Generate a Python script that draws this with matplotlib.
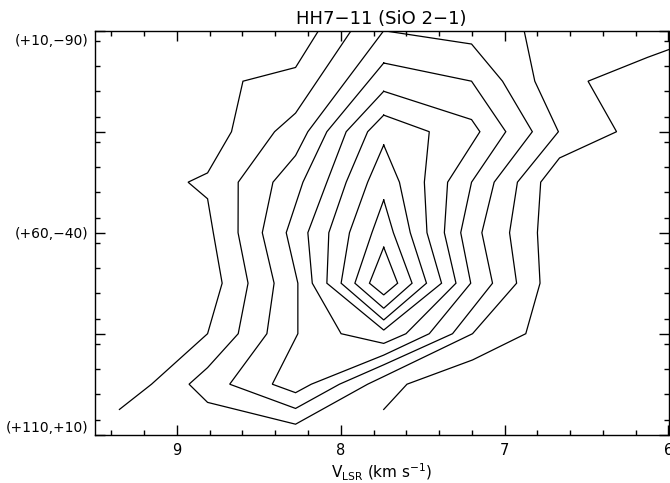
import matplotlib
matplotlib.use("Agg")
import matplotlib.pyplot as plt
from matplotlib.ticker import FixedLocator, FixedFormatter, MultipleLocator
from matplotlib.transforms import ScaledTranslation

# ---------------- data (velocity km/s, position along cut) ----------------
# contour polylines, innermost first
ring1_v = [7.738, 7.653, 7.738, 7.825, 7.738]
ring1_p = [63.6, 72.5, 75.4, 72.5, 63.6]

ring2_v = [7.738, 7.679, 7.565, 7.738, 7.914, 7.810, 7.738]
ring2_p = [51.9, 60.0, 72.5, 78.7, 72.5, 60.0, 51.9]

ring3_v = [7.738, 7.642, 7.576, 7.477, 7.738, 7.998, 7.947, 7.836, 7.738]
ring3_p = [38.3, 47.5, 60.0, 72.5, 81.6, 72.5, 60.0, 47.5, 38.3]

ring4_v = [7.738, 7.460, 7.490, 7.474, 7.385, 7.738, 8.085, 8.073, 7.967, 7.836, 7.738]
ring4_p = [30.9, 35.0, 47.5, 60.0, 72.5, 84.1, 72.5, 60.0, 47.5, 35.0, 30.9]

ring5_v = [7.738, 7.202, 7.151, 7.348, 7.368, 7.297, 7.602, 7.738, 7.998, 8.174,
           8.201, 8.085, 7.967, 7.738]
ring5_p = [25.0, 32.0, 35.0, 47.5, 60.0, 72.5, 85.0, 87.4, 85.0, 72.5,
           60.0, 47.5, 35.0, 25.0]

ring6_v = [7.738, 7.202, 6.993, 7.202, 7.268, 7.207, 7.460, 7.738, 8.180, 8.276,
           8.418, 8.262, 8.262, 8.333, 8.231, 8.085, 7.738]
ring6_p = [18.0, 22.5, 35.0, 47.5, 60.0, 72.5, 85.0, 90.3, 97.5, 99.6,
           97.5, 85.0, 72.5, 60.0, 47.5, 35.0, 18.0]

ring7_v = [7.738, 7.202, 7.013, 6.831, 7.064, 7.139, 7.074, 7.318, 7.738, 8.008,
           8.276, 8.678, 8.451, 8.407, 8.479, 8.414, 8.276, 8.201, 7.738]
ring7_p = [10.0, 13.3, 22.5, 35.0, 47.5, 60.0, 72.5, 85.0, 92.7, 97.5,
           103.5, 97.5, 85.0, 72.5, 60.0, 47.5, 40.9, 35.0, 10.0]

ring8_v = [7.937, 8.276, 8.404, 8.626, 8.627, 8.566, 8.626, 8.813, 8.926, 8.813,
           8.276, 7.836, 7.738, 7.196, 6.927, 6.970, 6.922, 6.672, 6.816, 6.881]
ring8_p = [10.0, 30.4, 35.0, 47.5, 60.0, 72.5, 85.0, 93.4, 97.5, 102.0,
           107.4, 97.5, 95.6, 85.0, 72.5, 60.0, 47.5, 35.0, 22.5, 10.0]

outer_left_v = [8.136, 8.276, 8.597, 8.667, 8.813, 8.932, 8.813, 8.778, 8.724,
                8.813, 9.155, 9.351]
outer_left_p = [10.0, 19.1, 22.5, 35.0, 45.2, 47.5, 51.6, 60.0, 72.5,
                85.0, 97.5, 103.75]

outer_right_v = [6.000, 6.128, 6.491, 6.317, 6.665, 6.780, 6.800, 6.784, 6.871,
                 7.196, 7.596, 7.738]
outer_right_p = [14.7, 16.6, 22.5, 35.0, 41.5, 47.5, 60.0, 72.5, 85.0,
                 91.5, 97.5, 103.75]

contours = [
    (ring1_v, ring1_p), (ring2_v, ring2_p), (ring3_v, ring3_p),
    (ring4_v, ring4_p), (ring5_v, ring5_p), (ring6_v, ring6_p),
    (ring7_v, ring7_p), (ring8_v, ring8_p),
    (outer_left_v, outer_left_p), (outer_right_v, outer_right_p),
]

x_ticks = [9, 8, 7, 6]
x_tick_labels = ["9", "8", "7", "6"]
y_ticks = [10, 35, 60, 85, 110]
y_tick_labels = ["(+10,\u221290)", "", "(+60,\u221240)", "", "(+110,+10)"]
title = "HH7\u221211 (SiO 2\u22121)"

# ---------------- figure ----------------
fig = plt.figure(figsize=(6.70, 4.83), dpi=100)
ax = fig.add_axes([95 / 670, 1 - 434.7 / 483, (668.5 - 95) / 670, (434.7 - 30.7) / 483])

for v, p in contours:
    ax.plot(v, p, color="black", lw=0.9, solid_joinstyle="miter")

ax.set_xlim(9.5, 6.0)
ax.set_ylim(110, 10)

ax.xaxis.set_major_locator(FixedLocator(x_ticks))
ax.xaxis.set_major_formatter(FixedFormatter(x_tick_labels))
ax.xaxis.set_minor_locator(MultipleLocator(0.2))
ax.yaxis.set_major_locator(FixedLocator(y_ticks))
ax.yaxis.set_major_formatter(FixedFormatter(y_tick_labels))
ax.yaxis.set_minor_locator(MultipleLocator(6.25))

ax.tick_params(which="both", direction="in", top=True, right=True, width=1.0)
ax.tick_params(which="major", length=7)
ax.tick_params(which="minor", length=3.5)
ax.tick_params(axis="x", pad=6, labelsize=10.5)
ax.tick_params(axis="y", pad=5, labelsize=10)
for s in ax.spines.values():
    s.set_linewidth(1.0)

fig.canvas.draw()
ylabels = ax.get_yticklabels()
ylabels[0].set_va("top")
ylabels[0].set_transform(ylabels[0].get_transform()
                         + ScaledTranslation(0, -3 / 100, fig.dpi_scale_trans))
ylabels[-1].set_va("bottom")

ax.set_title(title, fontsize=13, pad=5)
ax.set_xlabel(r"V$_{\rm LSR}$ (km s$^{-1}$)", fontsize=11, labelpad=3)

fig.savefig("out.png", dpi=100)
